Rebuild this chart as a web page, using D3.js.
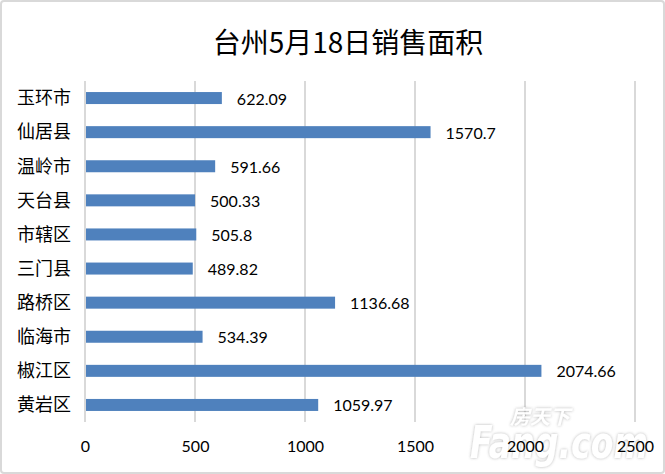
<!DOCTYPE html>
<html>
<head>
<meta charset="utf-8">
<script src="https://cdn.jsdelivr.net/npm/d3@7"></script>
<style>
  html, body { margin: 0; padding: 0; background: #fff; }
  svg { display: block; }
</style>
</head>
<body>
<svg id="chart" width="665" height="474"></svg>
<script>
const title = "台州5月18日销售面积";
const categories = ["玉环市", "仙居县", "温岭市", "天台县", "市辖区", "三门县", "路桥区", "临海市", "椒江区", "黄岩区"];
const values = [622.09, 1570.7, 591.66, 500.33, 505.8, 489.82, 1136.68, 534.39, 2074.66, 1059.97];
const valueLabels = ["622.09", "1570.7", "591.66", "500.33", "505.8", "489.82", "1136.68", "534.39", "2074.66", "1059.97"];
const xTicks = [0, 500, 1000, 1500, 2000, 2500];

const svg = d3.select("#chart");
const W = 665, H = 474;
const numFont = "Lato, 'Noto Sans CJK SC', sans-serif";
const cjkFont = "'Noto Sans CJK SC', sans-serif";

// outer frame
svg.append("rect")
  .attr("x", 1).attr("y", 1).attr("width", W - 2).attr("height", H - 2)
  .attr("rx", 3).attr("fill", "#fff").attr("stroke", "#d9d9d9").attr("stroke-width", 2);

const plot = { left: 85, right: 635, top: 81, bottom: 422 };

const x = d3.scaleLinear().domain([0, 2500]).range([plot.left, plot.right]);
const y = d3.scaleBand().domain(categories).range([plot.top, plot.bottom])
  .paddingInner(0.648).paddingOuter(0.324);

// gridlines
svg.append("g").selectAll("line").data(xTicks).join("line")
  .attr("x1", d => x(d)).attr("x2", d => x(d))
  .attr("y1", plot.top).attr("y2", plot.bottom)
  .attr("stroke", "#d9d9d9").attr("stroke-width", 2);

// title
svg.append("text")
  .attr("x", 348).attr("y", 41)
  .attr("text-anchor", "middle").attr("dominant-baseline", "central")
  .attr("font-family", cjkFont).attr("font-size", 28).attr("fill", "#000")
  .text(title);

// bars
svg.append("g").selectAll("rect").data(categories).join("rect")
  .attr("x", x(0) + 1)
  .attr("y", d => y(d))
  .attr("width", (d, i) => x(values[i]) - x(0) - 1)
  .attr("height", y.bandwidth())
  .attr("fill", "#4f81bd");

// value labels
svg.append("g").selectAll("text").data(categories).join("text")
  .attr("x", (d, i) => x(values[i]) + 15)
  .attr("y", d => y(d) + y.bandwidth() / 2)
  .attr("dominant-baseline", "central")
  .attr("font-family", numFont).attr("font-size", 16).attr("fill", "#000")
  .text((d, i) => valueLabels[i]);

// category axis
const yAxis = d3.axisLeft(y).tickSize(0).tickPadding(14);
const yg = svg.append("g").attr("transform", `translate(${plot.left},0)`).call(yAxis);
yg.select(".domain").remove();
yg.selectAll("text").attr("font-family", cjkFont).attr("font-size", 18).attr("fill", "#000")
  .attr("dy", "0.35em");

// watermark (drawn beneath the axis labels, semi-transparent)
const defs = svg.append("defs");
const f = defs.append("filter").attr("id", "wm").attr("x", "-20%").attr("y", "-20%").attr("width", "140%").attr("height", "140%");
f.append("feDropShadow").attr("dx", 0).attr("dy", 0).attr("stdDeviation", 1.5).attr("flood-color", "#888").attr("flood-opacity", 0.7);
const wm = svg.append("g").attr("filter", "url(#wm)").attr("fill", "#fff").attr("opacity", 0.9);
wm.append("text").attr("x", 510).attr("y", 424)
  .attr("font-family", cjkFont).attr("font-weight", "bold").attr("font-size", 20)
  .attr("font-style", "italic").text("房天下");
wm.append("text").attr("x", 470).attr("y", 458)
  .attr("font-family", "'DejaVu Sans', sans-serif").attr("font-weight", "bold").attr("font-size", 44)
  .attr("font-style", "italic").attr("textLength", 178).attr("lengthAdjust", "spacingAndGlyphs").text("Fang.com");

// value axis
const xAxis = d3.axisBottom(x).tickValues(xTicks).tickSize(0).tickPadding(0).tickFormat(d3.format("d"));
const xg = svg.append("g").attr("transform", `translate(0,${plot.bottom})`).call(xAxis);
xg.select(".domain").remove();
xg.selectAll("text").attr("font-family", numFont).attr("font-size", 16).attr("fill", "#000")
  .attr("y", 24).attr("dy", "0.35em");
</script>
</body>
</html>
